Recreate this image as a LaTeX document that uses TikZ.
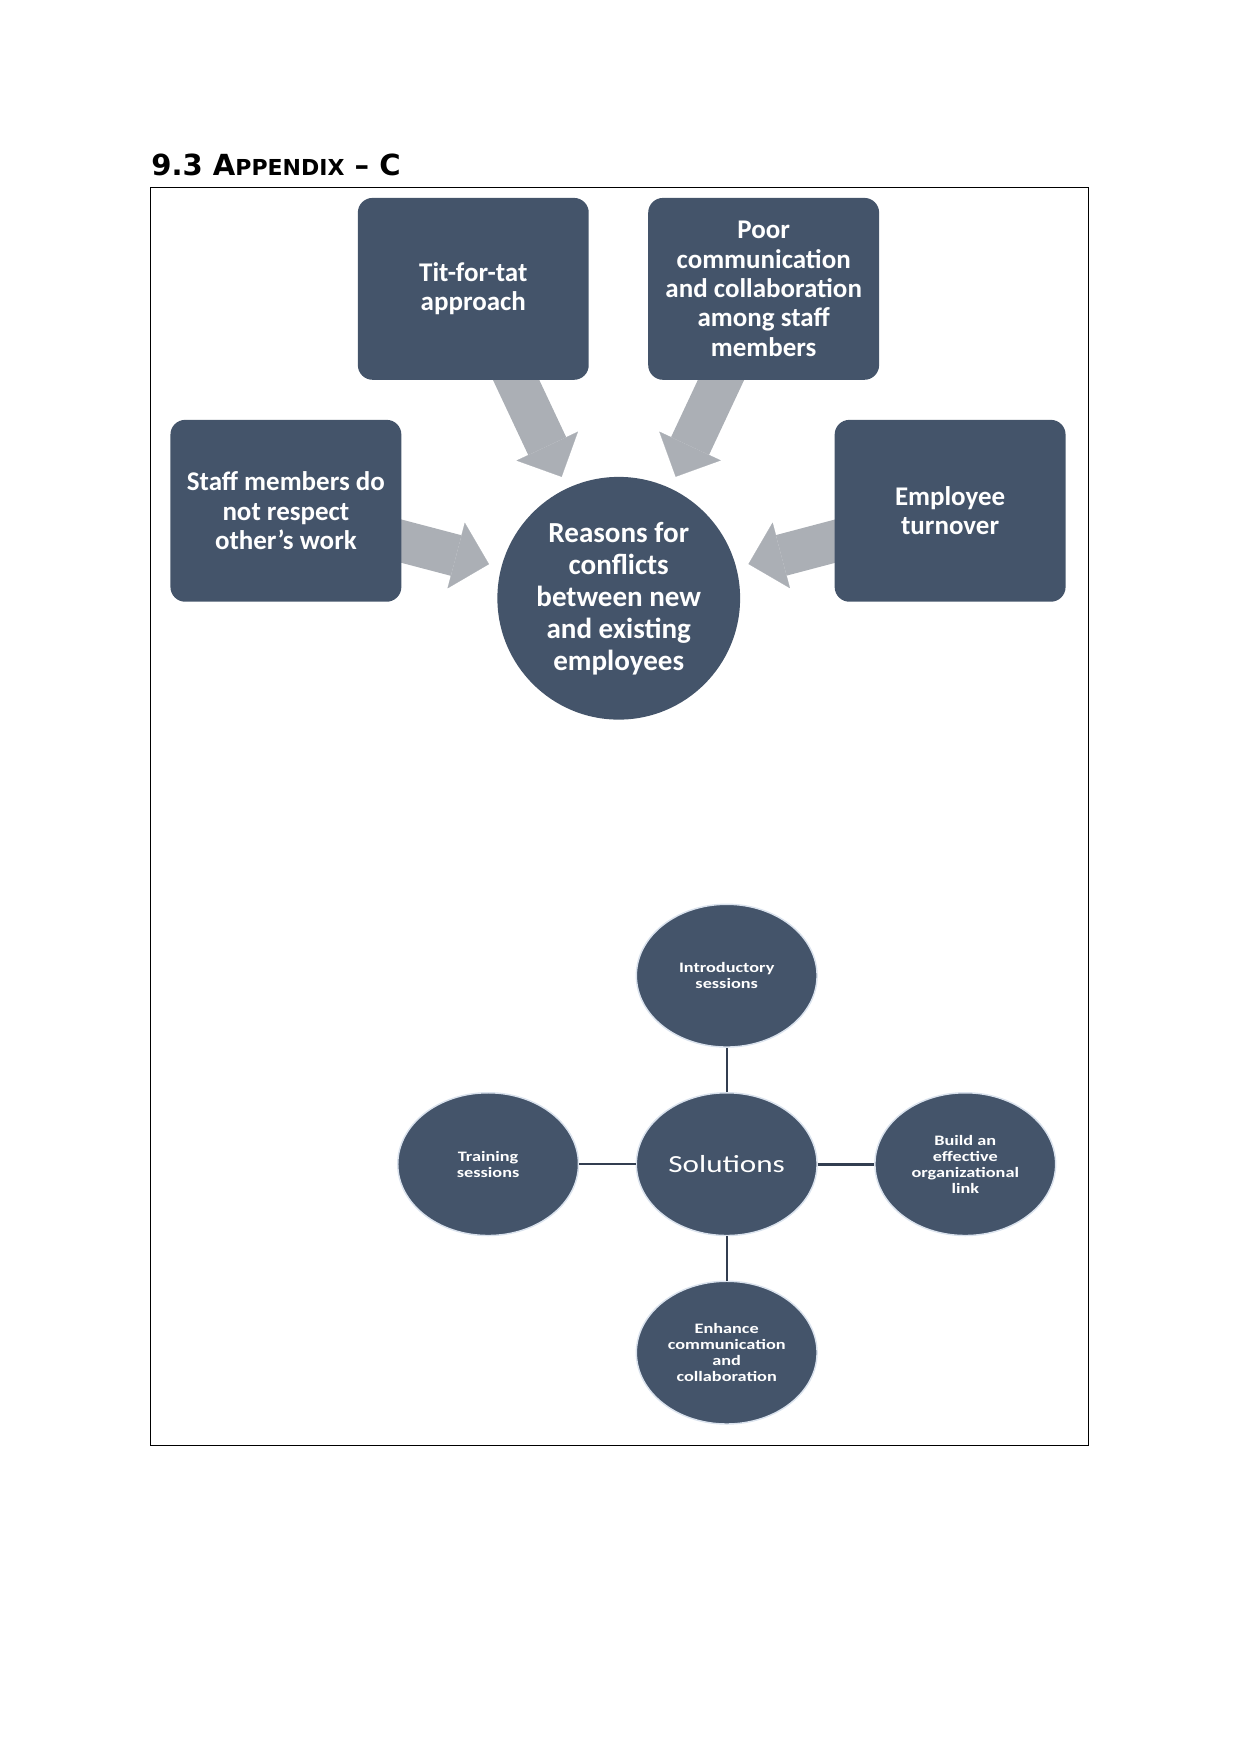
\documentclass[tikz,border=0pt]{standalone}
\usepackage{fontspec}
\setmainfont{Carlito}
\newfontfamily\headfont{DejaVu Sans}
\usetikzlibrary{
  arrows.meta,
  positioning,
  backgrounds
}
\definecolor{slate}{RGB}{68,84,106}
\definecolor{sgray}{RGB}{171,175,181}
\definecolor{srim}{RGB}{218,226,237}
\definecolor{sline}{RGB}{50,62,80}
\tikzset{
  cause/.style={
    rectangle, rounded corners=0.25cm,
    fill=slate, text=white,
    minimum width=3.91cm, minimum height=3.08cm,
    font=\fontsize{13}{14.2}\selectfont\bfseries, align=center
  },
  hub/.style={
    circle, fill=slate, text=white,
    minimum size=4.11cm, inner sep=0pt,
    font=\fontsize{14}{15.4}\selectfont\bfseries, align=center
  },
  remedy/.style={
    circle, fill=slate, draw=srim, line width=0.7pt, text=white,
    minimum size=3.06cm, inner sep=0pt,
    font=\fontsize{8.8}{9.7}\selectfont\bfseries, align=center
  },
  fatarr/.style={
    -{Triangle[width=1.15cm, length=0.575cm, line width=0.1pt]},
    line width=0.71cm, color=sgray, shorten >=0.21cm
  },
  spoke/.style={line width=#1, color=sline},
  spoke/.default=1pt
}

\begin{document}
\begin{tikzpicture}
    \path[use as bounding box] (0,0) rectangle (21,-29.7);

    %% ---- Heading and frame -----------------------------------------
    \node[anchor=base west, inner sep=0pt,
          font=\headfont\bfseries\fontsize{14}{16}\selectfont] (head)
      at (2.556,-2.974) {9.3 A{\fontsize{10.6}{12}\selectfont PPENDIX} – C};
    \draw[line width=0.5pt] (2.556,-3.182) rectangle (18.432,-24.475);

    %% ---- TOP: reasons for conflicts --------------------------------
    \node[hub] (why) at (10.477,-10.130)
      {Reasons for\\conflicts\\between new\\and existing\\employees};

    \node[cause] (tit)   at (8.014,-4.891)  {Tit-for-tat\\approach};
    \node[cause] (poor)  at (12.931,-4.891)
      {Poor\\communication\\and collaboration\\among staff\\members};
    \node[cause] (staff) at (4.841,-8.649)
      {Staff members do\\not respect\\other’s work};
    \node[cause] (turn)  at (16.088,-8.649) {Employee\\turnover};

    \begin{scope}[on background layer]
      \draw[fatarr] (tit.center) -- (why);
      \draw[fatarr] (poor.center) -- (why);
      \draw[fatarr] (staff.center) -- (why);
      \draw[fatarr] (turn.center) -- (why);
    \end{scope}

    %% ---- BOTTOM: solutions -----------------------------------------
    \begin{scope}[shift={(12.305,-19.712)}, yscale=0.79,
                  every node/.append style={transform shape},
                  node distance=4.04cm, on grid]
      \node[remedy, font=\fontsize{15}{17}\selectfont] (sol) at (0,0)
        {Solutions};
      \node[remedy, above=of sol] (intro) {Introductory\\sessions};
      \node[remedy, left=of sol]  (train) {Training\\sessions};
      \node[remedy, right=of sol] (org)
        {Build an\\effective\\organizational\\link};
      \node[remedy, below=of sol] (comm)
        {Enhance\\communication\\and\\collaboration};

      \draw[spoke] (sol) -- (intro);
      \draw[spoke] (sol) -- (train);
      \draw[spoke=1.4pt] (sol) -- (org);
      \draw[spoke] (sol) -- (comm);
    \end{scope}

\end{tikzpicture}
\end{document}
